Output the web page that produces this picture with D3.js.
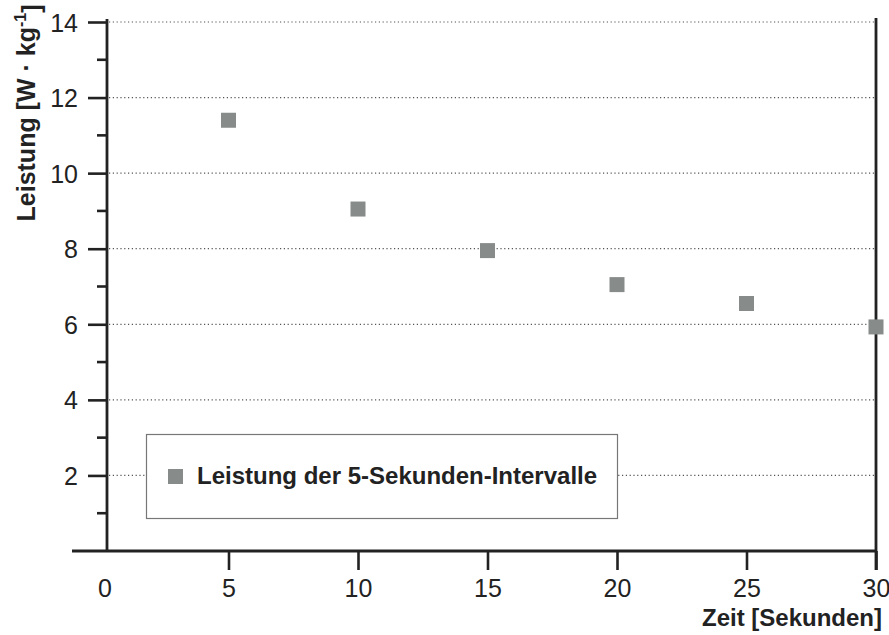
<!DOCTYPE html>
<html>
<head>
<meta charset="utf-8">
<script src="https://cdn.jsdelivr.net/npm/d3@7"></script>
<style>
  body { margin: 0; background: #fff; }
  svg { display: block; font-family: "Liberation Sans", Arial, sans-serif; }
</style>
</head>
<body>
<div id="container"></div>
<script>
// data we work with
let seconds = [5, 10, 15, 20, 25, 30];
let power = [11.4, 9.05, 7.95, 7.05, 6.55, 5.93];
let xTicks = [0, 5, 10, 15, 20, 25, 30];
let yTicks = [2, 4, 6, 8, 10, 12, 14];
let yMinor = [1, 3, 5, 7, 9, 11, 13];
let legendLabel = "Leistung der 5-Sekunden-Intervalle";

const w = 889;
const h = 635;
const ink = "#222";
const markerFill = "#878b8a";

let viz = d3.select("#container")
  .append("svg")
    .attr("width", w)
    .attr("height", h)
;

let xScale = d3.scaleLinear().domain([0, 30]).range([99, 876]);
let yScale = d3.scaleLinear().domain([0, 14]).range([551, 22]);
let x0 = 107;

// dotted grid at the major y values
viz.selectAll(".grid").data(yTicks).enter()
  .append("line")
    .attr("x1", x0 + 2)
    .attr("x2", 876)
    .attr("y1", d => yScale(d))
    .attr("y2", d => yScale(d))
    .attr("stroke", "#555")
    .attr("stroke-width", 1.2)
    .attr("stroke-dasharray", "1.2,2.6")
;

// y axis: major ticks with labels, minor ticks without
let yAxis = d3.axisLeft(yScale).tickValues(yTicks).tickSize(19).tickPadding(10).tickSizeOuter(0);
let gy = viz.append("g").attr("transform", `translate(${x0},0)`).call(yAxis);
gy.select(".domain").remove();
gy.selectAll(".tick line").attr("stroke", ink).attr("stroke-width", 2.6);
gy.selectAll(".tick text").attr("fill", ink).style("font-size", "25px").attr("dy", "0.36em");

viz.selectAll(".minor").data(yMinor).enter()
  .append("line")
    .attr("x1", x0 - 10)
    .attr("x2", x0)
    .attr("y1", d => yScale(d))
    .attr("y2", d => yScale(d))
    .attr("stroke", ink)
    .attr("stroke-width", 2.6)
;

// y axis line
viz.append("line")
  .attr("x1", x0).attr("x2", x0)
  .attr("y1", 19).attr("y2", yScale(0) + 1)
  .attr("stroke", ink).attr("stroke-width", 2.8);

// right frame line
viz.append("line")
  .attr("x1", 876).attr("x2", 876)
  .attr("y1", 18).attr("y2", 570)
  .attr("stroke", ink).attr("stroke-width", 2.8);

// x axis
let xAxis = d3.axisBottom(xScale).tickValues(xTicks.slice(1)).tickSize(19).tickPadding(8).tickSizeOuter(0);
let gx = viz.append("g").attr("transform", `translate(0,${yScale(0)})`).call(xAxis);
gx.select(".domain").remove();
gx.selectAll(".tick line").attr("stroke", ink).attr("stroke-width", 2.6);
gx.selectAll(".tick text").attr("fill", ink).style("font-size", "25px")
  .attr("y", 46).attr("dy", 0);

viz.append("line")
  .attr("x1", 72).attr("x2", 877)
  .attr("y1", yScale(0)).attr("y2", yScale(0))
  .attr("stroke", ink).attr("stroke-width", 2.8);

viz.append("text")
  .attr("x", 105)
  .attr("y", yScale(0) + 46)
  .attr("text-anchor", "middle")
  .attr("fill", ink)
  .style("font-size", "25px")
  .text(xTicks[0]);

// points
viz.selectAll(".pt").data(seconds).enter()
  .append("rect")
    .attr("x", d => xScale(d) - 7.5)
    .attr("y", (d, i) => yScale(power[i]) - 7.5)
    .attr("width", 15)
    .attr("height", 15)
    .attr("fill", markerFill)
;

// legend
viz.append("rect")
  .attr("x", 146.5).attr("y", 434.5)
  .attr("width", 471).attr("height", 84)
  .attr("fill", "#fff")
  .attr("stroke", "#777")
  .attr("stroke-width", 1.2);
viz.append("rect")
  .attr("x", 168).attr("y", 469)
  .attr("width", 15).attr("height", 15)
  .attr("fill", markerFill);
viz.append("text")
  .attr("x", 197).attr("y", 484)
  .attr("fill", ink)
  .style("font-size", "24px")
  .style("font-weight", "bold")
  .text(legendLabel);

// axis titles
viz.append("text")
  .attr("x", 882).attr("y", 626)
  .attr("text-anchor", "end")
  .attr("fill", ink)
  .style("font-size", "24px")
  .style("font-weight", "bold")
  .text("Zeit [Sekunden]");

let yt = viz.append("text")
  .attr("transform", "translate(35,113) rotate(-90)")
  .attr("text-anchor", "middle")
  .attr("fill", ink)
  .style("font-size", "25px")
  .style("font-weight", "bold");
yt.append("tspan").text("Leistung [W · kg");
yt.append("tspan").attr("dy", "-0.55em").style("font-size", "16px").text("-1");
yt.append("tspan").attr("dy", "0.55em").text("]");
</script>
</body>
</html>
